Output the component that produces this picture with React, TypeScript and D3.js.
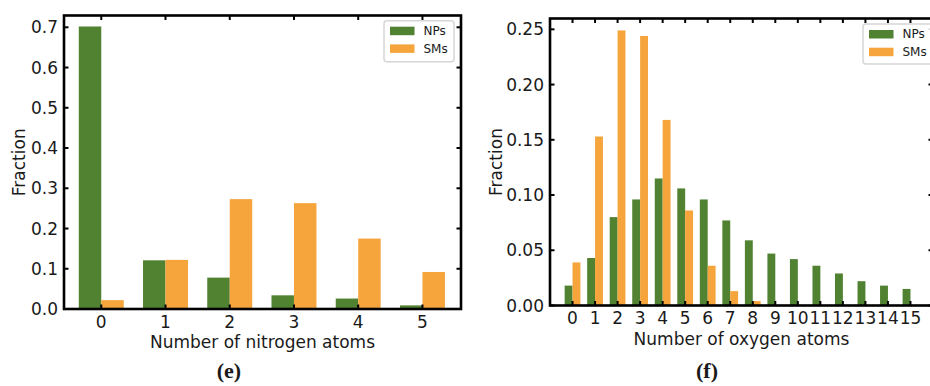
import React from "react";
import * as d3 from "d3";

// ---------- data ----------
const nitrogenCategories = [0, 1, 2, 3, 4, 5];
const nitrogenNPs = [0.702, 0.121, 0.078, 0.034, 0.026, 0.009];
const nitrogenSMs = [0.022, 0.122, 0.273, 0.263, 0.175, 0.092];
const nitrogenYTicks = [0, 0.1, 0.2, 0.3, 0.4, 0.5, 0.6, 0.7];

const oxygenCategories = [0, 1, 2, 3, 4, 5, 6, 7, 8, 9, 10, 11, 12, 13, 14, 15];
const oxygenNPs = [0.018, 0.043, 0.08, 0.096, 0.115, 0.106, 0.096, 0.077, 0.059, 0.047, 0.042, 0.036, 0.029, 0.022, 0.018, 0.015];
const oxygenSMs = [0.039, 0.153, 0.249, 0.244, 0.168, 0.086, 0.036, 0.013, 0.004, 0, 0, 0, 0, 0, 0, 0];
const oxygenYTicks = [0, 0.05, 0.1, 0.15, 0.2, 0.25];

const seriesNames = ["NPs", "SMs"];
const GREEN = "#508232";
const ORANGE = "#f5a53c";
const FONT = "'DejaVu Sans', sans-serif";

type PanelProps = {
  frame: { x0: number; x1: number; y0: number; y1: number };
  xDomain: [number, number];
  yDomain: [number, number];
  cats: number[];
  np: number[];
  sm: number[];
  yTicks: number[];
  yDigits: number;
  xLabel: string;
  yLabelX: number;
  caption: string;
  captionX: number;
  legend: { x: number; y: number; w: number; h: number };
};

function Panel(p: PanelProps) {
  const { x0, x1, y0, y1 } = p.frame;
  const x = d3.scaleLinear().domain(p.xDomain).range([x0, x1]);
  const y = d3.scaleLinear().domain(p.yDomain).range([y1, y0]);
  const bw = 0.35;
  const tl = 4.5;
  const fmt = d3.format(`.${p.yDigits}f`);
  const clipId = `clip-${p.caption.replace(/\W/g, "")}`;
  return (
    <g>
      <defs>
        <clipPath id={clipId}>
          <rect x={x0} y={y0} width={x1 - x0} height={y1 - y0} />
        </clipPath>
      </defs>
      <g clipPath={`url(#${clipId})`}>
        {p.cats.map((c, i) => (
          <g key={c}>
            <rect
              x={x(c - bw)}
              y={y(p.np[i])}
              width={x(c) - x(c - bw)}
              height={y(0) - y(p.np[i])}
              fill={GREEN}
            />
            <rect
              x={x(c)}
              y={y(p.sm[i])}
              width={x(c + bw) - x(c)}
              height={y(0) - y(p.sm[i])}
              fill={ORANGE}
            />
          </g>
        ))}
      </g>
      {/* ticks */}
      {p.yTicks.map((t) => (
        <g key={"y" + t}>
          <line x1={x0} x2={x0 + tl} y1={y(t)} y2={y(t)} stroke="#000" strokeWidth={2} />
          <line x1={x1} x2={x1 - tl} y1={y(t)} y2={y(t)} stroke="#000" strokeWidth={2} />
          <text
            x={x0 - 6}
            y={y(t)}
            textAnchor="end"
            dominantBaseline="central"
            fontFamily={FONT}
            fontSize={17}
            fill="#1a1a1a"
          >
            {fmt(t)}
          </text>
        </g>
      ))}
      {p.cats.map((c) => (
        <g key={"x" + c}>
          <line x1={x(c)} x2={x(c)} y1={y1} y2={y1 - tl} stroke="#000" strokeWidth={2} />
          <line x1={x(c)} x2={x(c)} y1={y0} y2={y0 + tl} stroke="#000" strokeWidth={2} />
          <text
            x={x(c)}
            y={y1 + 18.5}
            textAnchor="middle"
            fontFamily={FONT}
            fontSize={17}
            fill="#1a1a1a"
          >
            {c}
          </text>
        </g>
      ))}
      {/* spines */}
      <rect
        x={x0}
        y={y0}
        width={x1 - x0}
        height={y1 - y0}
        fill="none"
        stroke="#000"
        strokeWidth={2.6}
      />
      {/* axis labels */}
      <text
        x={(x0 + x1) / 2}
        y={y1 + 39}
        textAnchor="middle"
        fontFamily={FONT}
        fontSize={17}
        fill="#1a1a1a"
      >
        {p.xLabel}
      </text>
      <text
        transform={`translate(${p.yLabelX},${(y0 + y1) / 2}) rotate(-90)`}
        textAnchor="middle"
        fontFamily={FONT}
        fontSize={17}
        fill="#1a1a1a"
      >
        Fraction
      </text>
      {/* legend */}
      <g>
        <rect
          x={p.legend.x}
          y={p.legend.y}
          width={p.legend.w}
          height={p.legend.h}
          rx={3}
          fill="#fff"
          fillOpacity={0.85}
          stroke="#d6d6d6"
          strokeWidth={1.5}
        />
        {seriesNames.map((s, i) => (
          <g key={s}>
            <rect
              x={p.legend.x + 6}
              y={p.legend.y + 6 + i * 17.7}
              width={24.5}
              height={8.5}
              fill={i === 0 ? GREEN : ORANGE}
            />
            <text
              x={p.legend.x + 39.5}
              y={p.legend.y + 10.25 + i * 17.7}
              dominantBaseline="central"
              fontFamily={FONT}
              fontSize={12}
              fill="#1a1a1a"
            >
              {s}
            </text>
          </g>
        ))}
      </g>
      {/* caption */}
      <text
        x={p.captionX}
        y={378}
        textAnchor="middle"
        fontFamily="'Liberation Serif', 'DejaVu Serif', serif"
        fontSize={22}
        fontWeight="bold"
        fill="#1a1a1a"
      >
        {p.caption}
      </text>
    </g>
  );
}

export default function App() {
  return (
    <svg
      width={930}
      height={386}
      style={{ position: "absolute", left: 0, top: 0, background: "#fff" }}
    >
      <rect width={930} height={386} fill="#fff" />
      <Panel
        frame={{ x0: 64, x1: 461, y0: 15.5, y1: 309 }}
        xDomain={[-0.58, 5.6]}
        yDomain={[0, 0.7293]}
        cats={nitrogenCategories}
        np={nitrogenNPs}
        sm={nitrogenSMs}
        yTicks={nitrogenYTicks}
        yDigits={1}
        xLabel="Number of nitrogen atoms"
        yLabelX={25}
        caption="(e)"
        captionX={229}
        legend={{ x: 384, y: 20.7, w: 70, h: 41 }}
      />
      <Panel
        frame={{ x0: 550, x1: 933, y0: 18.5, y1: 305.5 }}
        xDomain={[-1.0, 16.0]}
        yDomain={[0, 0.2598]}
        cats={oxygenCategories}
        np={oxygenNPs}
        sm={oxygenSMs}
        yTicks={oxygenYTicks}
        yDigits={2}
        xLabel="Number of oxygen atoms"
        yLabelX={501.5}
        caption="(f)"
        captionX={707}
        legend={{ x: 863, y: 24, w: 70, h: 40 }}
      />
    </svg>
  );
}
